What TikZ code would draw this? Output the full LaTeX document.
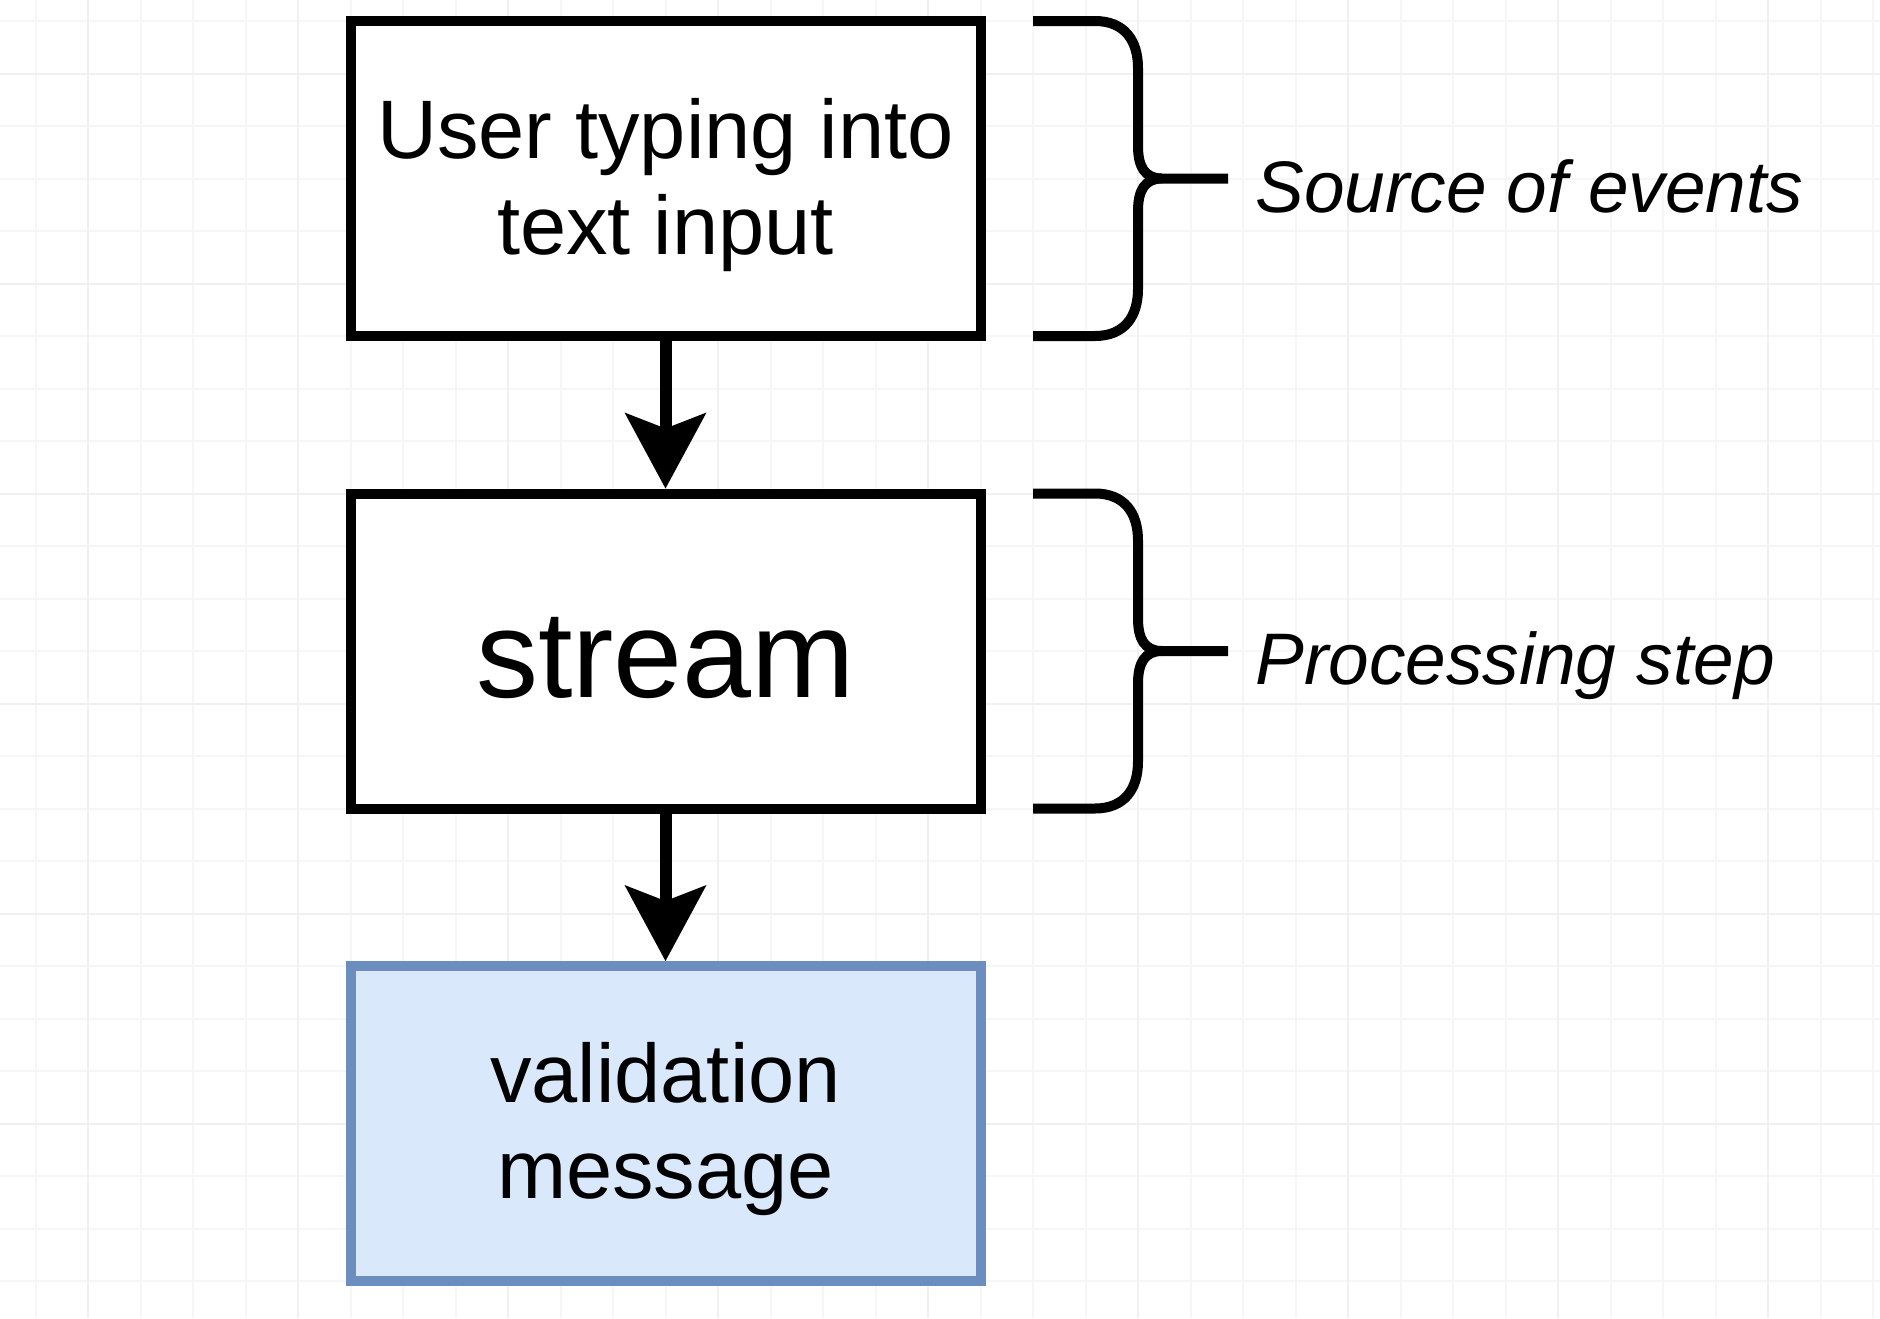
\documentclass[tikz,border=0pt]{standalone}
\usepackage{fontspec}
\setmainfont{Liberation Sans}
\usetikzlibrary{arrows.meta}
\definecolor{gridminor}{HTML}{F6F6F6}
\definecolor{gridmajor}{HTML}{F0F0F0}
\definecolor{blueFill}{HTML}{DAE8FC}
\definecolor{blueLine}{HTML}{6C8EBF}
\tikzset{
  stepbox/.style={draw=black, line width=5pt, fill=white, minimum width=315pt, minimum height=157.5pt, inner sep=0pt},
  resultbox/.style={stepbox, draw=blueLine, fill=blueFill},
  boxtext/.style={align=center, font=\fontsize{41.5pt}{48pt}\selectfont, inner sep=0pt},
  bigtext/.style={font=\fontsize{62pt}{70pt}\selectfont, inner sep=0pt},
  note/.style={font=\fontsize{36.5pt}{42pt}\selectfont\itshape, anchor=base west, inner sep=0pt},
  flowarrow/.style={line width=6pt, -{Stealth[length=38pt, width=41pt, inset=8pt, line width=0pt]}},
  brace/.style={line width=5pt, line cap=butt, line join=round},
  minorline/.style={draw=gridminor, line width=1pt},
  majorline/.style={draw=gridmajor, line width=1pt},
}
\begin{document}
\begin{tikzpicture}[x=0.5pt, y=-0.5pt]
  \fill[white] (0,0) rectangle (1880,1318);
  \useasboundingbox (0,0) rectangle (1880,1318);
  % grid
  \foreach \k in {-6,...,29} { \draw[minorline] ({350.5+52.5*\k},0) -- ({350.5+52.5*\k},1318); }
  \foreach \k in {0,...,24} { \draw[minorline] (0,{21+52.5*\k}) -- (1880,{21+52.5*\k}); }
  \foreach \k in {0,...,8} { \draw[majorline] ({88+210*\k},0) -- ({88+210*\k},1318); }
  \foreach \k in {0,...,5} { \draw[majorline] (0,{73.5+210*\k}) -- (1880,{73.5+210*\k}); }

  % boxes
  \node[stepbox] (src) at (665.5,178.5) {};
  \node[stepbox] (proc) at (665.5,651) {};
  \node[resultbox] (res) at (665.5,1123.5) {};

  \node[boxtext] (srctext) at ([yshift=-3.5pt]src.center) {User typing into\\text input};
  \node[bigtext] (proctext) at ([yshift=-3.5pt]proc.center) {stream};
  \node[boxtext] (restext) at ([yshift=-3pt]res.center) {validation\\message};

  % arrows
  \draw[flowarrow] (src) -- (proc);
  \draw[flowarrow] (proc) -- (res);

  % braces
  \foreach \dy in {0,472.5} {
    \draw[brace] (1033,{21+\dy}) -- (1095,{21+\dy})
      .. controls (1124,{21+\dy}) and (1138,{40+\dy}) .. (1138,{68+\dy})
      -- (1138,{146+\dy})
      .. controls (1138,{167+\dy}) and (1145,{178.5+\dy}) .. (1162,{178.5+\dy})
      -- (1228,{178.5+\dy});
    \draw[brace] (1033,{336+\dy}) -- (1095,{336+\dy})
      .. controls (1124,{336+\dy}) and (1138,{317+\dy}) .. (1138,{289+\dy})
      -- (1138,{211+\dy})
      .. controls (1138,{190+\dy}) and (1145,{178.5+\dy}) .. (1162,{178.5+\dy});
  }

  % notes
  \node[note] (srcnote) at (1255,212) {Source of events};
  \node[note] (procnote) at (1255,684.5) {Processing step};
\end{tikzpicture}
\end{document}
